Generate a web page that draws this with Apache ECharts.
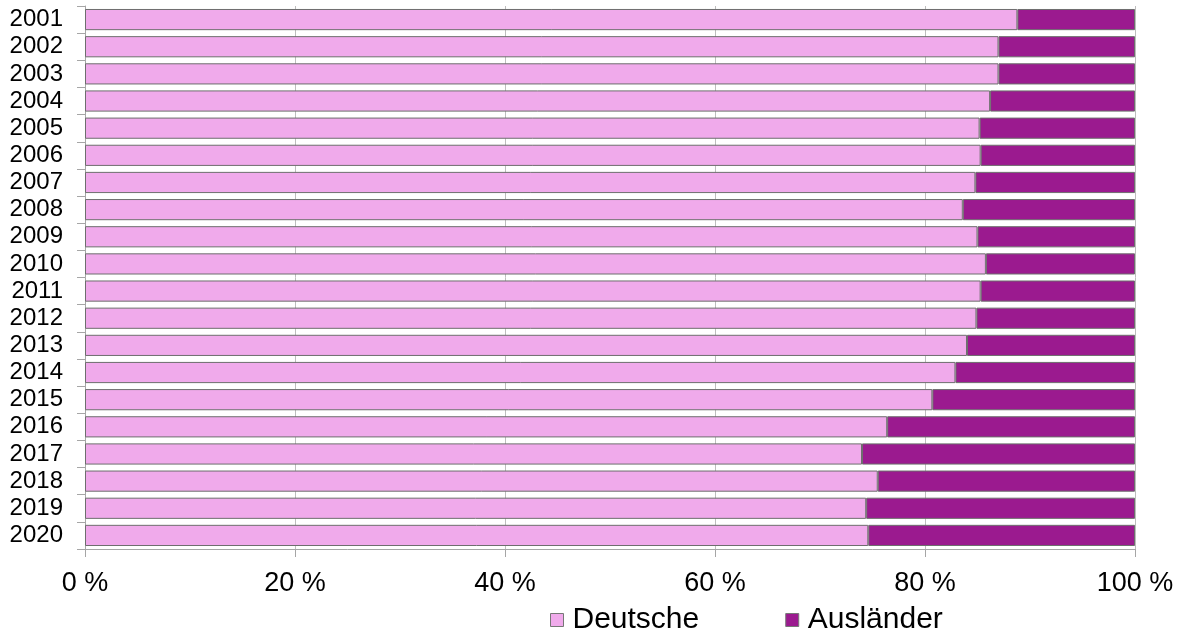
<!DOCTYPE html>
<html>
<head>
<meta charset="utf-8">
<script src="https://cdn.jsdelivr.net/npm/echarts@6/dist/echarts.min.js"></script>
<style>
  html, body { margin: 0; padding: 0; background: #ffffff; }
  #chart { width: 1181px; height: 632px; }
</style>
</head>
<body>
<div id="chart"></div>
<script>
// Share of Germans and foreigners per year, in percent
const years = ['2001','2002','2003','2004','2005','2006','2007','2008','2009','2010',
               '2011','2012','2013','2014','2015','2016','2017','2018','2019','2020'];
const deutsche = [88.8, 87.0, 87.0, 86.2, 85.2, 85.3, 84.8, 83.6, 85.0, 85.8,
                  85.3, 84.9, 84.0, 82.9, 80.7, 76.4, 74.0, 75.5, 74.4, 74.6];
const auslaender = [11.2, 13.0, 13.0, 13.8, 14.8, 14.7, 15.2, 16.4, 15.0, 14.2,
                    14.7, 15.1, 16.0, 17.1, 19.3, 23.6, 26.0, 24.5, 25.6, 25.4];
const xTicks = [0, 20, 40, 60, 80, 100];

const font = '"Liberation Sans", Arial, sans-serif';
const chart = echarts.init(document.getElementById('chart'), null, { renderer: 'canvas' });

chart.setOption({
  animation: false,
  backgroundColor: '#ffffff',
  grid: { left: 85, right: 46, top: 6, bottom: 83, containLabel: false },
  xAxis: {
    type: 'value',
    min: xTicks[0],
    max: xTicks[xTicks.length - 1],
    interval: 20,
    axisLine: { show: true, lineStyle: { color: '#a6a6a6', width: 1 } },
    axisTick: { show: true, length: 8, lineStyle: { color: '#a6a6a6' } },
    splitLine: { show: true, lineStyle: { color: '#bdbdbd', width: 1 } },
    axisLabel: {
      margin: 21,
      color: '#000000',
      fontFamily: font,
      fontSize: 27,
      formatter: v => v + ' %'
    }
  },
  yAxis: {
    type: 'category',
    data: years,
    inverse: true,
    axisLine: { show: true, lineStyle: { color: '#a6a6a6', width: 1 } },
    axisTick: { show: true, length: 8, interval: 0, lineStyle: { color: '#a6a6a6' } },
    axisLabel: {
      interval: 0,
      margin: 22,
      color: '#000000',
      fontFamily: font,
      fontSize: 24
    }
  },
  legend: {
    left: 545,
    top: 600,
    itemWidth: 13,
    itemHeight: 13,
    itemGap: 86,
    icon: 'rect',
    textStyle: { color: '#000000', fontFamily: font, fontSize: 30, padding: [0, 0, 0, 4] },
    itemStyle: { borderColor: '#777777', borderWidth: 1 },
    data: ['Deutsche', 'Ausländer']
  },
  series: [
    {
      name: 'Deutsche',
      type: 'bar',
      stack: 'total',
      data: deutsche,
      barCategoryGap: '22%',
      itemStyle: { color: '#f0aaeb', borderColor: '#6e6e6e', borderWidth: 1 }
    },
    {
      name: 'Ausländer',
      type: 'bar',
      stack: 'total',
      data: auslaender,
      barCategoryGap: '22%',
      itemStyle: { color: '#9b1a8f', borderColor: '#6e6e6e', borderWidth: 1 }
    }
  ]
});
</script>
</body>
</html>
